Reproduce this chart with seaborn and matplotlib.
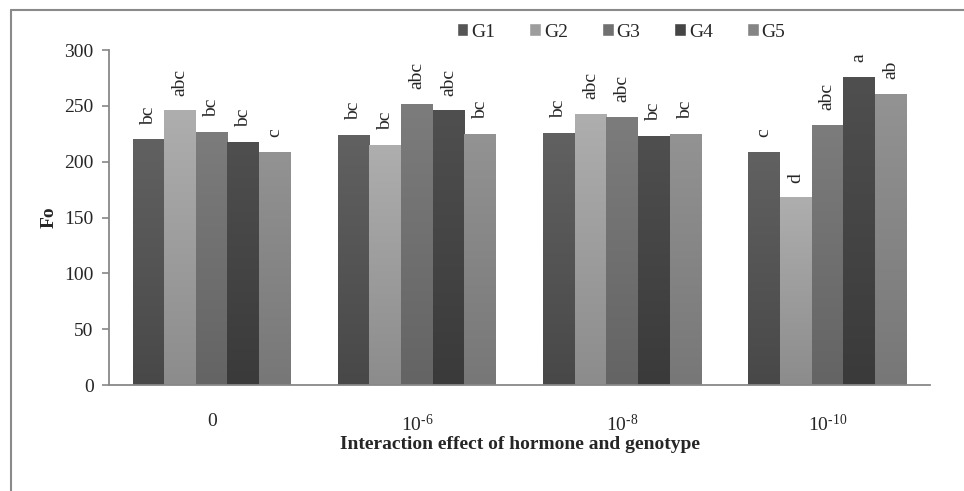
import numpy as np
import matplotlib
matplotlib.use("Agg")
import matplotlib.pyplot as plt
from matplotlib.colors import LinearSegmentedColormap
from matplotlib.lines import Line2D
import seaborn as sns
import pandas as pd

hormone = ["0", "10$^{\u20106}$", "10$^{\u20108}$", "10$^{\u201010}$"]
genotypes = ["G1", "G2", "G3", "G4", "G5"]

g1 = [220, 224, 226, 209]
g2 = [246, 215, 243, 168]
g3 = [227, 252, 240, 233]
g4 = [218, 246, 223, 276]
g5 = [209, 225, 225, 261]

letters = [
    ["bc", "bc", "bc", "c"],
    ["abc", "bc", "abc", "d"],
    ["bc", "abc", "abc", "abc"],
    ["bc", "abc", "bc", "a"],
    ["c", "bc", "bc", "ab"],
]

# top / bottom shades of each bar (excel gradient fill)
top_cols = ["#616161", "#aeaeae", "#7c7c7c", "#4f4f4f", "#939393"]
bot_cols = ["#484848", "#8c8c8c", "#646464", "#3a3a3a", "#777777"]
mid_cols = ["#555555", "#9d9d9d", "#707070", "#454545", "#858585"]

values = [g1, g2, g3, g4, g5]
rows = []
for g, vals in zip(genotypes, values):
    for h, v in zip(hormone, vals):
        rows.append({"hormone": h, "genotype": g, "Fo": v})
df = pd.DataFrame(rows)

sns.set_style("white")
plt.rcParams["font.family"] = ["Liberation Serif", "DejaVu Serif"]
plt.rcParams["mathtext.fontset"] = "custom"
plt.rcParams["mathtext.rm"] = "Liberation Serif"
plt.rcParams["mathtext.it"] = "Liberation Serif:italic"

fig = plt.figure(figsize=(9.64, 4.91), dpi=100)
ax = fig.add_axes([109 / 964, 1 - 385 / 491, 821 / 964, 335 / 491])

sns.barplot(data=df, x="hormone", y="Fo", hue="genotype", palette=mid_cols,
            width=0.77, saturation=1, ax=ax, legend=True)

for i, cont in enumerate(ax.containers):
    cmap = LinearSegmentedColormap.from_list("g%d" % i, [bot_cols[i], top_cols[i]])
    for j, bar in enumerate(cont):
        x, w, h = bar.get_x(), bar.get_width(), bar.get_height()
        grad = np.linspace(0, 1, 100).reshape(-1, 1)
        im = ax.imshow(grad, extent=[x, x + w, 0, h], origin="lower", cmap=cmap,
                       aspect="auto", zorder=bar.get_zorder() + 0.1)
        im.set_clip_path(bar)
        ax.annotate(letters[i][j], (x + w / 2, h), xytext=(0, 10.5),
                    textcoords="offset points", rotation=90, ha="center",
                    va="bottom", fontsize=14)

ax.set_xlim(-0.5, 3.5)
ax.set_ylim(0, 300)
ax.set_yticks(range(0, 301, 50))
ax.tick_params(axis="y", left=True, length=5, width=1.2, color="#888888",
               labelsize=14, pad=6)
ax.tick_params(axis="x", bottom=False, labelsize=14, pad=17)
for s in ["top", "right"]:
    ax.spines[s].set_visible(False)
for s in ["left", "bottom"]:
    ax.spines[s].set_color("#888888")
    ax.spines[s].set_linewidth(1.3)

ax.set_xlabel("Interaction effect of hormone and genotype", fontsize=14,
              fontweight="bold", labelpad=1)
ax.set_ylabel("Fo", fontsize=14, fontweight="bold", labelpad=5)

handles, labels = ax.get_legend_handles_labels()
ax.legend_.remove()
fig.legend(handles, labels, loc="center", bbox_to_anchor=(621 / 964, 1 - 32 / 491),
           ncol=5, frameon=False, fontsize=14, handlelength=0.6, handleheight=0.6,
           handletextpad=0.15, columnspacing=1.75)

# outer frame of the chart area
fig.add_artist(Line2D([11 / 964, 1.0], [1 - 10 / 491, 1 - 10 / 491],
                      transform=fig.transFigure, color="#8a8a8a", lw=1.5))
fig.add_artist(Line2D([11 / 964, 11 / 964], [0, 1 - 10 / 491],
                      transform=fig.transFigure, color="#8a8a8a", lw=1.5))

fig.savefig("out.png", dpi=100)
